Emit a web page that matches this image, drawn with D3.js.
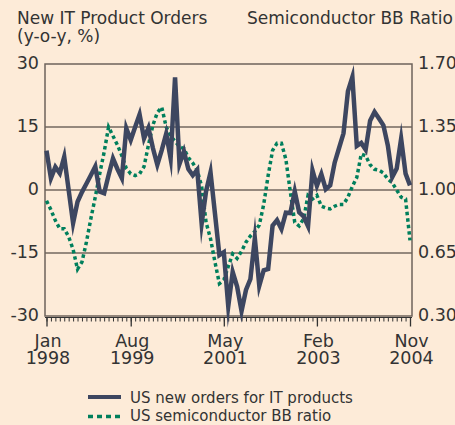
<!DOCTYPE html>
<html>
<head>
<meta charset="utf-8">
<script src="https://cdn.jsdelivr.net/npm/d3@7"></script>
<style>
  body { margin: 0; background: #fdebd8; }
  svg { display: block; font-family: "DejaVu Sans", Verdana, sans-serif; }
</style>
</head>
<body>
<svg id="chart"></svg>
<script>
// monthly data, Jan 1998 .. Nov 2004
var itOrders = [9.4, 2.8, 5.5, 4.0, 7.9, 0.0, -7.9, -2.8, -0.5, 1.5, 3.5, 5.6,
    -0.4, -0.8, 3.5, 7.5, 5.0, 2.8, 14.7, 11.9, 15.0, 18.0, 12.3, 14.8,
    10.0, 6.0, 9.5, 13.4, 7.5, 26.8, 6.2, 9.2, 5.0, 3.5, 4.8, -8.0,
    -0.3, 4.2, -5.6, -15.5, -14.8, -27.7, -19.5, -23.0, -28.8, -23.8, -21.2, -11.5,
    -22.8, -19.1, -18.8, -8.5, -7.2, -9.3, -5.4, -5.5, -0.3, -5.3, -6.3, -8.6,
    4.7, 1.0, 3.8, 0.2, 1.1, 6.5, 10.0, 13.5, 23.5, 26.9, 10.5, 11.2,
    9.6, 16.5, 18.6, 17.0, 15.4, 10.6, 3.1, 5.1, 12.2, 3.9, 1.1];

var bbRatio = [0.94, 0.89, 0.83, 0.785, 0.785, 0.74, 0.67, 0.56, 0.60, 0.71, 0.84, 0.96,
    1.09, 1.21, 1.35, 1.30, 1.25, 1.19, 1.12, 1.09, 1.08, 1.09, 1.13, 1.25,
    1.36, 1.43, 1.46, 1.35, 1.30, 1.27, 1.24, 1.23, 1.18, 1.15, 1.11, 1.02,
    0.82, 0.73, 0.60, 0.48, 0.50, 0.575, 0.645, 0.62, 0.66, 0.71, 0.745, 0.77,
    0.805, 0.92, 1.08, 1.22, 1.26, 1.26, 1.17, 0.99, 0.82, 0.80, 0.84, 0.97,
    0.95, 0.97, 0.91, 0.90, 0.895, 0.91, 0.92, 0.92, 0.96, 1.02, 1.07, 1.20,
    1.19, 1.14, 1.115, 1.11, 1.095, 1.06, 1.04, 1.00, 0.96, 0.95, 0.72];

var leftTicks = [-30, -15, 0, 15, 30];
var rightTicks = [0.30, 0.65, 1.00, 1.35, 1.70];
var majorIndex = [0, 19, 40, 61, 82];
var majorMonth = ["Jan", "Aug", "May", "Feb", "Nov"];
var majorYear = ["1998", "1999", "2001", "2003", "2004"];

var svgWidth = 455;
var svgHeight = 425;
var plot = { left: 45, right: 412, top: 64, bottom: 316 };

var svg = d3.select("#chart")
    .attr("width", svgWidth)
    .attr("height", svgHeight);

var textColor = "#333333";

// scales
var xScale = d3.scaleLinear()
    .domain([0, itOrders.length - 1])
    .range([46.5, 410]);
var yLeft = d3.scaleLinear()
    .domain([-30, 30])
    .range([plot.bottom, plot.top]);
var yRight = d3.scaleLinear()
    .domain([0.3, 1.7])
    .range([plot.bottom, plot.top]);

// gridlines
svg.append("g")
    .selectAll("line")
    .data([-15, 0, 15])
    .enter()
    .append("line")
    .attr("x1", plot.left)
    .attr("x2", plot.right)
    .attr("y1", d => yLeft(d))
    .attr("y2", d => yLeft(d))
    .attr("stroke", "#2e2622")
    .attr("stroke-width", 1.2);

// plot frame
svg.append("rect")
    .attr("x", plot.left)
    .attr("y", plot.top)
    .attr("width", plot.right - plot.left)
    .attr("height", plot.bottom - plot.top)
    .attr("fill", "none")
    .attr("stroke", "#6e635b")
    .attr("stroke-width", 1.5);

// left axis labels (plain hyphen minus like the original)
var leftAxis = d3.axisLeft(yLeft).tickValues(leftTicks).tickSize(0).tickPadding(6)
    .tickFormat(d => String(d));
var leftG = svg.append("g")
    .attr("transform", `translate(${plot.left}, -1)`)
    .call(leftAxis);
leftG.select(".domain").remove();
leftG.selectAll("text")
    .attr("font-family", "DejaVu Sans")
    .attr("font-size", 17.5)
    .attr("fill", textColor);

// right axis labels (clipped by the right edge, as in the original)
var rightAxis = d3.axisRight(yRight).tickValues(rightTicks).tickSize(0).tickPadding(6)
    .tickFormat(d3.format(".2f"));
var rightG = svg.append("g")
    .attr("transform", `translate(${plot.right}, -1)`)
    .call(rightAxis);
rightG.select(".domain").remove();
rightG.selectAll("text")
    .attr("font-family", "DejaVu Sans")
    .attr("font-size", 17.5)
    .attr("fill", textColor);

// x axis: monthly minor ticks + major ticks
var axisY = 317.5;
svg.append("line")
    .attr("x1", plot.left)
    .attr("x2", plot.right)
    .attr("y1", axisY)
    .attr("y2", axisY)
    .attr("stroke", "#333")
    .attr("stroke-width", 1);

var minorAxis = d3.axisBottom(xScale)
    .tickValues(d3.range(itOrders.length))
    .tickSize(4)
    .tickFormat("");
var minorG = svg.append("g")
    .attr("transform", `translate(0, ${axisY})`)
    .call(minorAxis);
minorG.select(".domain").remove();
minorG.selectAll("line").attr("stroke", "#333");

var majorAxis = d3.axisBottom(xScale)
    .tickValues(majorIndex)
    .tickSize(9)
    .tickFormat("");
var majorG = svg.append("g")
    .attr("transform", `translate(0, ${axisY})`)
    .call(majorAxis);
majorG.select(".domain").remove();
majorG.selectAll("line").attr("stroke", "#333").attr("stroke-width", 1.3);

var xLabelGroup = svg.append("g")
    .attr("text-anchor", "middle")
    .attr("font-size", 17.5)
    .attr("fill", textColor);
xLabelGroup.selectAll("text.month")
    .data(majorIndex)
    .enter()
    .append("text")
    .attr("class", "month")
    .attr("x", d => xScale(d) + 1.5)
    .attr("y", 346.5)
    .text((d, i) => majorMonth[i]);
xLabelGroup.selectAll("text.year")
    .data(majorIndex)
    .enter()
    .append("text")
    .attr("class", "year")
    .attr("x", d => xScale(d) + 1.5)
    .attr("y", 364)
    .text((d, i) => majorYear[i]);

// lines
var blueLine = d3.line()
    .x((d, i) => xScale(i))
    .y(d => yLeft(d));
var greenLine = d3.line()
    .x((d, i) => xScale(i))
    .y(d => yRight(d));

svg.append("path")
    .datum(bbRatio)
    .attr("d", greenLine)
    .attr("fill", "none")
    .attr("stroke", "#007f5c")
    .attr("stroke-width", 3.5)
    .attr("stroke-dasharray", "3.5,3");

svg.append("path")
    .datum(itOrders)
    .attr("d", blueLine)
    .attr("fill", "none")
    .attr("stroke", "#3d4660")
    .attr("stroke-width", 4.5)
    .attr("stroke-linejoin", "miter")
    .attr("stroke-miterlimit", 10);

// titles
svg.append("text")
    .attr("x", 17)
    .attr("y", 24)
    .attr("font-size", 17)
    .attr("fill", textColor)
    .text("New IT Product Orders");
svg.append("text")
    .attr("x", 17)
    .attr("y", 41.5)
    .attr("font-size", 17)
    .attr("fill", textColor)
    .text("(y-o-y, %)");
svg.append("text")
    .attr("x", 247)
    .attr("y", 24)
    .attr("font-size", 17)
    .attr("fill", textColor)
    .text("Semiconductor BB Ratio");

// legend
var legend = svg.append("g");
legend.append("line")
    .attr("x1", 88).attr("x2", 121)
    .attr("y1", 397).attr("y2", 397)
    .attr("stroke", "#3d4660")
    .attr("stroke-width", 4);
legend.append("text")
    .attr("x", 130).attr("y", 402.5)
    .attr("font-size", 15)
    .attr("fill", textColor)
    .text("US new orders for IT products");
legend.append("line")
    .attr("x1", 88).attr("x2", 121)
    .attr("y1", 416.5).attr("y2", 416.5)
    .attr("stroke", "#007f5c")
    .attr("stroke-width", 3.5)
    .attr("stroke-dasharray", "5,4");
legend.append("text")
    .attr("x", 130).attr("y", 421)
    .attr("font-size", 15)
    .attr("fill", textColor)
    .text("US semiconductor BB ratio");
</script>
</body>
</html>
